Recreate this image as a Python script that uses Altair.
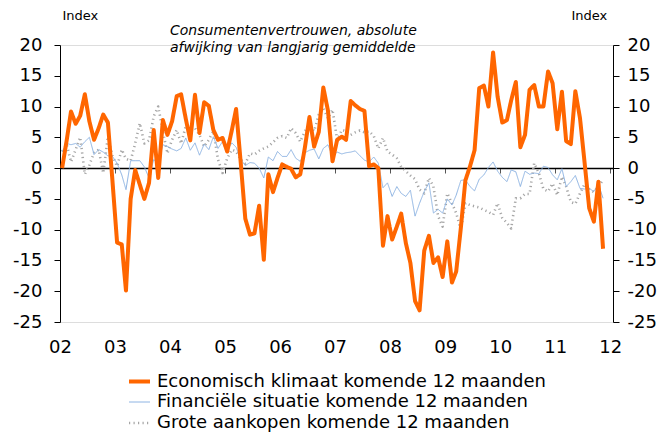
import altair as alt
import pandas as pd

# Monthly values, Jan 2002 onwards
econ = [0, 4.6, 9.2, 7.2, 8.5, 12.0, 7.6, 4.6, 6.5, 8.7, 7.4, -2.0,
        -12.1, -12.4, -19.9, -5.0, -0.3, -2.7, -5.0, -2.4, 6.2, -1.6, 7.8, 5.4,
        7.6, 11.7, 12.0, 8.0, 4.5, 11.9, 5.7, 10.7, 10.1, 6.2, 4.6, 4.9,
        2.7, 6.2, 9.6, 0.8, -8.2, -10.8, -10.6, -6.1, -14.9, -1.0, -3.9, -1.6,
        0.6, 0.2, -0.1, -1.5, -1.0, 3.4, 8.3, 3.5, 5.9, 13.1, 9.3, 1.1,
        4.6, 5.1, 4.6, 10.9, 10.2, 9.6, 9.3, 0.3, 0.6, 0.0, -12.6, -7.8,
        -11.6, -9.5, -7.4, -12.2, -15.4, -21.6, -23.1, -13.4, -11.0, -15.4, -14.5, -17.7,
        -11.9, -18.6, -16.8, -9.7, -2.0, 0.3, 2.9, 13.0, 13.4, 10.0, 18.8, 11.6,
        7.4, 7.8, 11.0, 14.0, 3.4, 5.4, 12.7, 13.5, 10.0, 10.0, 15.7, 13.8,
        6.3, 12.4, 4.4, 3.9, 12.5, 8.1, 1.0, -6.5, -8.7, -2.2, -13.1]

fin = [2.7, 4.0, 3.8, 4.0, 3.4, 4.3, 5.0, 2.2, 3.0, 2.6, 2.0, 1.9,
       0.8, -1.1, -3.5, 1.2, 1.2, 1.2, 0.2, -1.6, 1.4, 0.7, 3.8, 3.5,
       3.1, 2.8, 3.2, 4.9, 2.9, 4.1, 2.1, 3.9, 3.0, 5.1, 3.2, 4.3,
       2.9, 4.1, 3.4, 1.4, 0.4, 0.9, 0.8, 0.0, -1.6, 1.8, 1.2, 2.7,
       1.9, 1.9, 3.0, 1.6, 1.1, 2.5, 2.9, 3.1, 1.5, 3.2, 3.8, 1.9,
       2.6, 2.3, 2.5, 2.6, 2.8, 2.0, 1.3, 1.0, 1.8, 0.8, -3.2, -2.4,
       -4.6, -3.0, -4.1, -4.6, -3.6, -7.8, -5.7, -3.8, -2.4, -7.3, -6.7, -7.3,
       -5.0, -6.0, -4.4, -2.0, -1.9, -3.0, -3.7, -1.8, -1.1, 0.1, 1.0, -0.5,
       -1.5, -2.2, -0.3, -0.6, -3.0, -0.5, -1.0, -0.8, -0.9, 0.3, 0.1, -1.1,
       -1.9, -0.1, -3.0, -2.2, -1.2, -3.3, -3.4, -3.3, -3.8, -2.6, -4.9]

groot = [2.7, 3.8, 1.0, 3.0, 5.0, -1.0, 0.5, 2.5, 3.0, -0.8, 5.1, 2.0,
         0.3, 3.0, 1.5, 1.2, 4.0, 7.3, 4.0, 4.5, 8.4, 10.0, 6.0, 2.4,
         4.6, 6.2, 4.0, 6.8, 6.2, 6.5, 5.4, 3.5, 4.6, 6.0, 1.4, -0.8,
         1.6, 3.0, 2.7, 1.4, 0.7, 2.4, 2.2, 2.8, 3.2, 3.5, 4.2, 4.9,
         5.2, 4.9, 6.5, 5.7, 4.3, 6.0, 7.0, 6.0, 8.7, 9.7, 8.1, 9.5,
         4.6, 6.2, 6.0, 5.4, 5.8, 6.1, 5.8, 6.0, 5.2, 3.2, 4.9, 2.7,
         2.2, 1.6, 0.2, -0.5, -1.2, -1.8, -3.5, -4.1, -1.6, -3.0, -7.8, -9.5,
         -4.1, -5.7, -7.3, -10.0, -5.7, -6.0, -6.2, -6.4, -6.8, -7.1, -7.6, -5.7,
         -8.1, -8.9, -9.8, -4.9, -4.9, -4.2, -4.2, 0.8, -0.8, -3.4, -3.8, -2.5,
         -4.4, -1.4, -3.0, -5.5, -5.8, -4.1, -2.6, -3.4, -3.9, -3.0, -1.9]

names = ["Economisch klimaat komende 12 maanden",
         "Financiële situatie komende 12 maanden",
         "Grote aankopen komende 12 maanden"]
colors = ["#FF6600", "#8EB4E3", "#A6A6A6"]
title_lines = ["Consumentenvertrouwen,  absolute", "afwijking van langjarig gemiddelde"]
years = list(range(2002, 2013))
y_ticks = list(range(-25, 25, 5))


def frame(vals, name):
    dates = pd.date_range("2002-01-15", periods=len(vals), freq=pd.DateOffset(months=1))
    return pd.DataFrame({"date": dates.strftime("%Y-%m-%d"), "value": vals, "serie": name})


df = pd.concat([frame(groot, names[2]), frame(fin, names[1]), frame(econ, names[0])],
               ignore_index=True)

FONT = "DejaVu Sans"
xscale = alt.Scale(type="utc", domain=[alt.DateTime(year=2002, month=1, date=1, utc=True),
                                       alt.DateTime(year=2012, month=1, date=20, utc=True)])
yscale = alt.Scale(domain=[-25, 20], nice=False, zero=False)
year_vals = [alt.DateTime(year=y, month=1, date=1, utc=True) for y in years]

legend = alt.Legend(title=None, orient="none", legendX=67, legendY=324, direction="vertical",
                    symbolType="stroke", symbolSize=441, labelFontSize=18, labelFont=FONT,
                    labelColor="black", rowPadding=0, labelOffset=5, labelLimit=600)


def yaxis(orient, pad, tx):
    return alt.Axis(values=y_ticks, orient=orient, grid=False, domainColor="black",
                    tickColor="black", tickSize=6, labelFontSize=18, labelFont=FONT,
                    labelColor="black", labelPadding=pad, labelExpr="toString(datum.value)",
                    title="Index", titleAngle=0, titleX=tx, titleY=-30, titleBaseline="middle",
                    titleFontSize=13, titleFont=FONT, titleFontWeight="normal",
                    titleAlign="left", titleColor="black")


lines = alt.Chart(df).mark_line(strokeCap="butt", strokeJoin="round").encode(
    x=alt.X("date:T", scale=xscale,
            axis=alt.Axis(values=year_vals, format="%y", domain=False, ticks=False, grid=False,
                          labelFontSize=18, labelFont=FONT, labelColor="black", labelPadding=16,
                          labelOverlap=False, labelFlush=False, title=None, orient="bottom")),
    y=alt.Y("value:Q", scale=yscale, axis=yaxis("left", 12, 2)),
    color=alt.Color("serie:N", scale=alt.Scale(domain=names, range=colors), legend=legend),
    strokeDash=alt.StrokeDash("serie:N", scale=alt.Scale(domain=names, range=[[1, 0], [1, 0], [1.2, 3.3]]),
                              legend=legend),
    strokeWidth=alt.StrokeWidth("serie:N", scale=alt.Scale(type="ordinal", domain=names, range=[4, 1, 2.6]),
                                legend=legend),
)

right = alt.Chart(df).mark_line(opacity=0).encode(
    x=alt.X("date:T", scale=xscale,
            axis=alt.Axis(values=year_vals, orient="bottom", offset=-154, domain=True,
                          domainColor="black", domainWidth=1.5, ticks=True, tickColor="#555",
                          tickSize=5, labels=False, grid=False, title=None)),
    y=alt.Y("value:Q", scale=yscale, axis=yaxis("right", 8, -42)),
)

t1 = alt.Chart(pd.DataFrame({"t": [title_lines[0]]})).mark_text(
    align="left", baseline="middle", font=FONT, fontSize=14, fontStyle="italic", color="black"
).encode(text="t:N", x=alt.value(110), y=alt.value(-14))
t2 = alt.Chart(pd.DataFrame({"t": [title_lines[1]]})).mark_text(
    align="left", baseline="middle", font=FONT, fontSize=14, fontStyle="italic", color="black"
).encode(text="t:N", x=alt.value(110), y=alt.value(3))

chart = alt.layer(right, lines, t1, t2).resolve_axis(x="independent", y="independent").properties(
    width=553, height=277,
    autosize=alt.AutoSizeParams(type="none"),
    padding={"left": 52, "top": 37, "right": 46, "bottom": 111},
).configure_view(stroke=None).configure(font=FONT)

chart.save("out.html", embed_options={"renderer": "svg", "actions": False})
